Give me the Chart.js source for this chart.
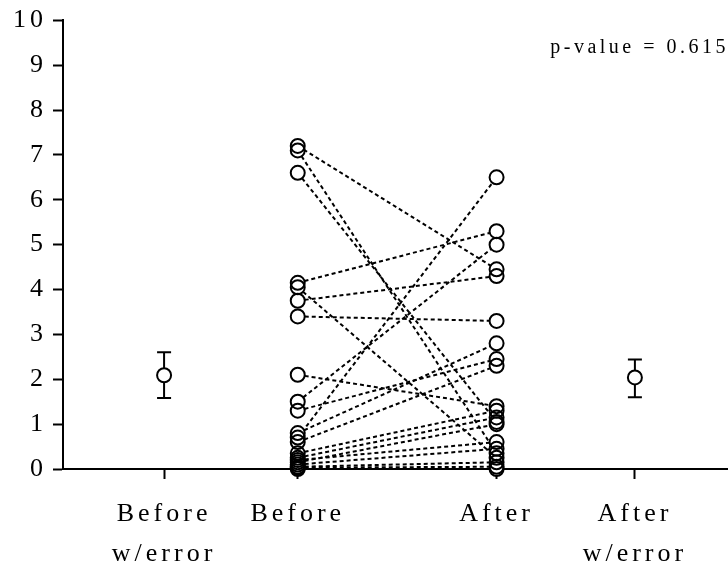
<!DOCTYPE html>
<html>
<head>
<meta charset="utf-8">
<script src="https://cdn.jsdelivr.net/npm/chart.js@4"></script>
<style>
  body { margin: 0; background: #fff; }
  #wrap { width: 728px; height: 570px; }
</style>
</head>
<body>
<div id="wrap"><canvas id="myChart"></canvas></div>
<script>
// colonnes de l'axe x et leur position
const categories = [['Before', 'w/error'], ['Before'], ['After'], ['After', 'w/error']];
const catX = [1.52, 3.53, 6.52, 8.6];

// valeurs appariées : before[i] est relié à after[i]
const before = [7.2, 7.1, 6.6, 4.15, 4.05, 3.75, 3.4, 2.1, 1.5, 1.3, 0.8, 0.7, 0.6, 0.35, 0.25, 0.2, 0.15, 0.1, 0.05, 0.03, 0.0];
const after  = [4.45, 0.35, 1.05, 5.3, 0.25, 4.3, 3.3, 1.4, 5.0, 2.45, 2.8, 6.5, 2.3, 1.3, 1.15, 0.6, 1.0, 0.45, 0.15, 0.05, 0.0];

// moyenne +/- erreur sur les colonnes extérieures
const errCol = [0, 3];
const errMean = [2.09, 2.04];
const errLow = [1.58, 1.6];
const errHigh = [2.6, 2.44];

const yTicks = [0, 1, 2, 3, 4, 5, 6, 7, 8, 9, 10];
const pValueText = 'p-value = 0.615';

const serif = 'Liberation Serif';
const R = 7;

// une ligne pointillée par paire
const pairLines = before.map((b, i) => ({
  type: 'line',
  data: [{ x: catX[1], y: b }, { x: catX[2], y: after[i] }],
  borderColor: '#000',
  borderWidth: 2,
  borderDash: [4, 3],
  pointRadius: 0,
  fill: false,
  clip: false,
  order: 3
}));

const allPoints = [];
before.forEach(b => allPoints.push({ x: catX[1], y: b }));
after.forEach(a => allPoints.push({ x: catX[2], y: a }));
errMean.forEach((m, i) => allPoints.push({ x: catX[errCol[i]], y: m }));

// fond blanc des cercles, puis contours par-dessus
const pointFill = {
  type: 'scatter',
  data: allPoints,
  pointRadius: R,
  pointBackgroundColor: '#fff',
  pointBorderColor: 'rgba(0,0,0,0)',
  pointBorderWidth: 0,
  clip: false,
  order: 2
};
const pointRing = {
  type: 'scatter',
  data: allPoints,
  pointRadius: R,
  pointBackgroundColor: 'rgba(0,0,0,0)',
  pointBorderColor: '#000',
  pointBorderWidth: 2,
  clip: false,
  order: 1
};

const spacing = {
  id: 'spacing',
  beforeDraw(chart) { chart.ctx.letterSpacing = '4px'; }
};

// l'axe x va jusqu'au bord droit du canvas
const fullWidthX = {
  id: 'fullWidthX',
  afterLayout(chart) {
    const xs = chart.scales.x;
    xs.right = chart.width;
    xs.width = xs.right - xs.left;
    chart.chartArea.right = xs.right;
    chart.chartArea.width = xs.width;
    xs.configure();
  }
};

const errorBars = {
  id: 'errorBars',
  beforeDatasetsDraw(chart) {
    const ctx = chart.ctx, xs = chart.scales.x, ys = chart.scales.y;
    ctx.save();
    ctx.strokeStyle = '#000';
    ctx.lineWidth = 2;
    errMean.forEach((m, i) => {
      const px = xs.getPixelForValue(catX[errCol[i]]);
      const top = ys.getPixelForValue(errHigh[i]);
      const bot = ys.getPixelForValue(errLow[i]);
      ctx.beginPath();
      ctx.moveTo(px, top); ctx.lineTo(px, bot);
      ctx.moveTo(px - 7, top); ctx.lineTo(px + 7, top);
      ctx.moveTo(px - 7, bot); ctx.lineTo(px + 7, bot);
      ctx.stroke();
    });
    ctx.restore();
  }
};

const pLabel = {
  id: 'pLabel',
  afterDraw(chart) {
    const ctx = chart.ctx;
    ctx.save();
    ctx.letterSpacing = '3.5px';
    ctx.font = '20px "' + serif + '"';
    ctx.fillStyle = '#000';
    ctx.textAlign = 'right';
    ctx.textBaseline = 'alphabetic';
    ctx.fillText(pValueText, chart.width + 1, 53);
    ctx.restore();
  }
};

const ctx = document.getElementById('myChart');
new Chart(ctx, {
  type: 'scatter',
  data: { datasets: [...pairLines, pointFill, pointRing] },
  plugins: [spacing, fullWidthX, errorBars, pLabel],
  options: {
    responsive: true,
    maintainAspectRatio: false,
    animation: false,
    layout: { padding: { top: 19, right: 0, bottom: 0, left: 0 } },
    plugins: { legend: { display: false }, tooltip: { enabled: false } },
    scales: {
      x: {
        type: 'linear',
        min: 0,
        max: 10,
        afterFit: s => { s.height = 101; },
        afterBuildTicks: s => { s.ticks = catX.map(v => ({ value: v })); },
        grid: { drawOnChartArea: false, drawTicks: true, tickLength: 10, tickWidth: 2, tickColor: '#000' },
        border: { color: '#000', width: 2 },
        ticks: {
          autoSkip: false,
          maxRotation: 0,
          padding: 15,
          color: '#000',
          font: { family: serif, size: 26, lineHeight: 1.54 },
          callback: (v, i) => categories[i]
        }
      },
      y: {
        min: 0,
        max: 10,
        afterFit: s => { s.width = 63; },
        afterBuildTicks: s => { s.ticks = yTicks.map(v => ({ value: v })); },
        grid: { drawOnChartArea: false, drawTicks: true, tickLength: 10, tickWidth: 2, tickColor: '#000' },
        border: { color: '#000', width: 2 },
        ticks: {
          padding: 6,
          color: '#000',
          font: { family: serif, size: 26, lineHeight: 1.1 }
        }
      }
    }
  }
});
</script>
</body>
</html>
